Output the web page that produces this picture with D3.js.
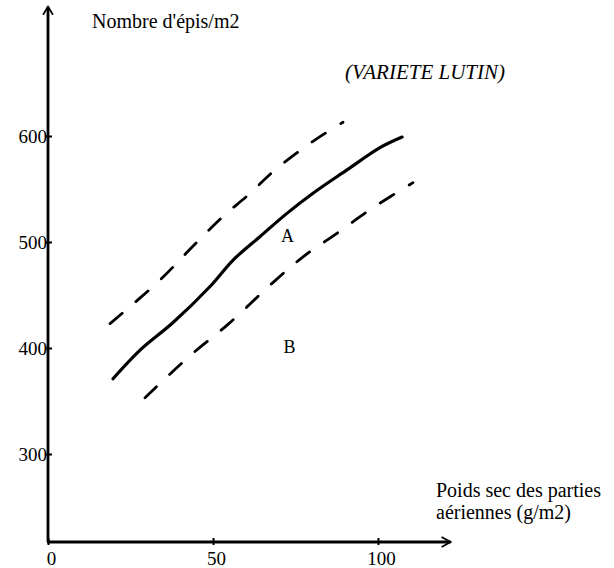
<!DOCTYPE html>
<html>
<head>
<meta charset="utf-8">
<title>Nombre d'épis/m2 - Variété Lutin</title>
<script src="https://cdn.jsdelivr.net/npm/d3@7"></script>
<style>
    body {
        margin: 0;
        background-color: #fff;
    }

    svg {
        display: block;
        background-color: #fff;
    }

    svg text {
        font-family: "Liberation Serif", "Times New Roman", serif;
        fill: #000;
    }

    .axe path,
    .axe line {
        stroke: #000;
    }

    .axe text {
        font-size: 19px;
    }
</style>
</head>
<body>
<svg width="614" height="568"></svg>
<script>
    // courbe moyenne (trait plein) : poids sec (g/m2) -> nombre d'épis/m2
    var poidsMoyen = [19.7, 27.9, 37.9, 49.1, 56.1, 64.2, 72.4, 80.3, 90.6, 100.6, 107.3];
    var episMoyen = [371, 398, 424, 458, 483, 505, 527, 546, 568, 589, 599];

    // limite haute (tirets)
    var poidsHaut = [18.8, 33.9, 43.9, 53.0, 60.9, 68.8, 80.3, 89.4];
    var episHaut = [423, 464, 496, 524, 545, 568, 595, 613];

    // limite basse (tirets)
    var poidsBas = [29.4, 42.4, 54.8, 67.9, 77.3, 87.0, 98.8, 110.6];
    var episBas = [353, 391, 423, 461, 486, 507, 533, 556];

    var ticksX = [0, 50, 100];
    var ticksY = [300, 400, 500, 600];

    // zones
    var zones = [
        { nom: "A", poids: 72.6, epis: 500 },
        { nom: "B", poids: 73.2, epis: 395 }
    ];

    var svg = d3.select("svg");

    var x = d3.scaleLinear().domain([0, 100]).range([48, 378]);
    var y = d3.scaleLinear().domain([300, 600]).range([454, 136]);

    var xFin = 122, yDebut = 217, yFin = 722;

    var noir = "#000";

    // axe vertical
    svg.append("line")
        .attr("x1", x(0)).attr("x2", x(0))
        .attr("y1", y(yDebut)).attr("y2", y(yFin))
        .attr("stroke", noir).attr("stroke-width", 2.8);

    // axe horizontal
    svg.append("line")
        .attr("x1", x(0) - 1).attr("x2", x(xFin))
        .attr("y1", y(yDebut)).attr("y2", y(yDebut))
        .attr("stroke", noir).attr("stroke-width", 2.8);

    // flèches ouvertes
    svg.append("path")
        .attr("d", "M" + (x(0) - 5) + "," + (y(yFin) + 8) + "L" + x(0) + "," + y(yFin) + "L" + (x(0) + 5) + "," + (y(yFin) + 8))
        .attr("fill", "none").attr("stroke", noir).attr("stroke-width", 1.8);

    svg.append("path")
        .attr("d", "M" + (x(xFin) - 9) + "," + (y(yDebut) - 5) + "L" + x(xFin) + "," + y(yDebut) + "L" + (x(xFin) - 9) + "," + (y(yDebut) + 5))
        .attr("fill", "none").attr("stroke", noir).attr("stroke-width", 1.8);

    // graduations X
    var axeX = svg.append("g")
        .attr("class", "axe")
        .attr("transform", "translate(0," + y(yDebut) + ")")
        .call(d3.axisBottom(x).tickValues(ticksX).tickSize(3).tickFormat(d3.format("d")));
    axeX.attr("font-family", null);
    axeX.select(".domain").remove();
    axeX.selectAll(".tick line").attr("y1", -4).attr("stroke-width", 2);
    axeX.selectAll(".tick text").attr("dx", 3).attr("dy", 0).attr("y", 23);

    // graduations Y
    var axeY = svg.append("g")
        .attr("class", "axe")
        .attr("transform", "translate(" + x(0) + ",0)")
        .call(d3.axisLeft(y).tickValues(ticksY).tickSize(3).tickFormat(d3.format("d")));
    axeY.attr("font-family", null);
    axeY.select(".domain").remove();
    axeY.selectAll(".tick line").attr("x2", 4).attr("x1", -3).attr("stroke-width", 2);
    axeY.selectAll(".tick text").attr("x", -1).attr("dy", "0.32em");

    // courbes
    var ligne = d3.line()
        .x(function (d) { return x(d[0]); })
        .y(function (d) { return y(d[1]); })
        .curve(d3.curveCatmullRom);

    svg.append("path")
        .datum(d3.zip(poidsMoyen, episMoyen))
        .attr("d", ligne)
        .attr("fill", "none")
        .attr("stroke", noir)
        .attr("stroke-width", 3.2)
        .attr("stroke-linecap", "round");

    svg.append("path")
        .datum(d3.zip(poidsHaut, episHaut))
        .attr("d", ligne)
        .attr("fill", "none")
        .attr("stroke", noir)
        .attr("stroke-width", 2.8)
        .attr("stroke-linecap", "round")
        .attr("stroke-dasharray", "16,18");

    svg.append("path")
        .datum(d3.zip(poidsBas, episBas))
        .attr("d", ligne)
        .attr("fill", "none")
        .attr("stroke", noir)
        .attr("stroke-width", 2.8)
        .attr("stroke-linecap", "round")
        .attr("stroke-dasharray", "16,18");

    // lettres A et B
    svg.selectAll(".zone")
        .data(zones)
        .enter().append("text")
        .attr("class", "zone")
        .attr("x", function (d) { return x(d.poids); })
        .attr("y", function (d) { return y(d.epis); })
        .attr("text-anchor", "middle")
        .attr("font-size", 18)
        .text(function (d) { return d.nom; });

    // titres
    svg.append("text")
        .attr("x", 92).attr("y", 28)
        .attr("font-size", 20)
        .text("Nombre d'épis/m2");

    svg.append("text")
        .attr("x", 345).attr("y", 79)
        .attr("font-size", 21)
        .attr("font-style", "italic")
        .text("(VARIETE LUTIN)");

    svg.append("text")
        .attr("x", 436).attr("y", 497)
        .attr("font-size", 20)
        .text("Poids sec des parties");

    svg.append("text")
        .attr("x", 436).attr("y", 519)
        .attr("font-size", 20)
        .text("aériennes (g/m2)");
</script>
</body>
</html>
